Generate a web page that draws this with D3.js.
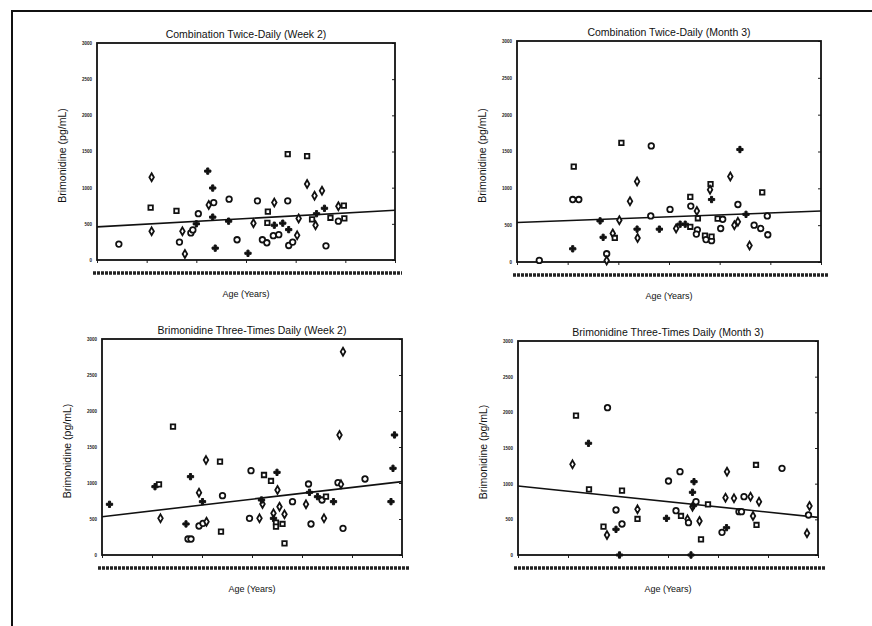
<!DOCTYPE html>
<html>
<head>
	<meta charset="utf-8">
	<title>Brimonidine by age</title>
	<style>
		body {
			margin: 0;
			background: white;
			font-family: 'Liberation Sans', Arial, sans-serif;
		}

		svg {
			display: block;
		}
	</style>
</head>
<body>
	<svg width='872' height='626'></svg>
</body>
<script src='https://d3js.org/d3.v7.min.js'></script>
<script>

	// values: [age, brimonidine pg/mL, marker]
	// c = circle, s = square, d = diamond, p = plus
	let comboWeek2 = [
		[24.4, 220, 'c'], [31.0, 1145, 'd'], [30.8, 724, 's'], [31.0, 397, 'd'],
		[36.0, 678, 's'], [36.6, 248, 'c'], [37.2, 397, 'd'], [37.7, 84, 'd'],
		[38.9, 374, 'c'], [39.3, 416, 'c'], [40.4, 640, 'c'], [40.0, 500, 'p'],
		[42.3, 1229, 'p'], [42.5, 762, 'd'], [43.5, 794, 'c'], [43.3, 995, 'p'],
		[43.3, 593, 'p'], [43.8, 164, 'p'], [46.6, 841, 'c'], [46.5, 537, 'p'],
		[48.2, 280, 'c'], [50.4, 93, 'p'], [52.3, 818, 'c'], [51.5, 509, 'd'],
		[53.3, 280, 'c'], [54.2, 238, 'c'], [54.4, 668, 's'], [54.3, 514, 's'],
		[55.7, 794, 'd'], [55.7, 481, 'p'], [55.5, 336, 'c'], [56.6, 350, 'c'],
		[57.4, 509, 'p'], [58.4, 818, 'c'], [58.4, 1463, 's'], [58.6, 420, 'p'],
		[58.6, 201, 'c'], [59.4, 248, 'c'], [60.3, 341, 'd'], [60.6, 575, 'd'],
		[62.3, 1435, 's'], [62.3, 1051, 'd'], [63.3, 561, 's'], [63.8, 888, 'd'],
		[64.0, 481, 'd'], [64.2, 640, 'p'], [65.3, 958, 'd'], [65.8, 715, 'p'],
		[66.1, 196, 'c'], [67.0, 584, 's'], [68.6, 537, 'c'], [68.6, 743, 'd'],
		[69.7, 752, 's'], [69.8, 575, 's']
	]

	let comboMonth3 = [
		[24.4, 22, 'c'], [31.2, 1295, 's'], [31.0, 848, 'c'], [32.2, 848, 'c'],
		[31.0, 179, 'p'], [36.4, 558, 'p'], [37.0, 335, 'p'], [37.7, 112, 'c'],
		[37.7, 22, 'd'], [38.9, 388, 'd'], [39.3, 326, 's'], [40.2, 567, 'd'],
		[40.6, 1616, 's'], [42.3, 826, 'd'], [43.7, 1094, 'd'], [43.7, 446, 'p'],
		[43.8, 326, 'd'], [46.5, 1576, 'c'], [46.4, 625, 'c'], [48.1, 446, 'p'],
		[50.2, 714, 'c'], [51.4, 455, 'd'], [52.2, 513, 'p'], [53.2, 513, 'p'],
		[54.2, 478, 's'], [54.2, 884, 's'], [54.3, 759, 'c'], [55.5, 692, 'd'],
		[55.7, 594, 's'], [55.6, 437, 'c'], [55.4, 379, 'c'], [57.1, 357, 's'],
		[57.3, 304, 'c'], [58.2, 1058, 's'], [58.1, 982, 'd'], [58.4, 848, 'p'],
		[58.4, 290, 'c'], [58.4, 344, 's'], [59.6, 589, 's'], [60.6, 580, 'c'],
		[60.2, 455, 'c'], [62.1, 1161, 'd'], [62.9, 500, 'd'], [63.6, 545, 'd'],
		[63.6, 781, 'c'], [64.0, 1527, 'p'], [65.2, 647, 'p'], [65.9, 223, 'd'],
		[66.8, 500, 'c'], [68.1, 455, 'c'], [68.4, 946, 's'], [69.5, 370, 'c'],
		[69.4, 625, 'c']
	]

	let tidWeek2 = [
		[21.5, 704, 'p'], [30.6, 949, 'p'], [31.4, 981, 's'], [31.7, 509, 'd'],
		[34.2, 1782, 's'], [36.8, 431, 'p'], [37.2, 222, 'c'], [37.8, 222, 'c'],
		[37.7, 1088, 'p'], [39.4, 866, 'd'], [40.1, 741, 'p'], [39.4, 403, 'c'],
		[40.2, 440, 'c'], [40.9, 463, 'd'], [40.8, 1319, 'd'], [43.6, 1296, 's'],
		[43.8, 324, 's'], [44.1, 824, 'c'], [49.5, 509, 'c'], [49.8, 1171, 'c'],
		[51.5, 509, 'd'], [52.1, 708, 'd'], [51.9, 764, 'p'], [52.4, 1111, 's'],
		[53.8, 1028, 's'], [54.3, 579, 'd'], [54.3, 509, 'p'], [54.8, 449, 's'],
		[54.8, 394, 's'], [55.0, 1148, 'p'], [55.1, 903, 'd'], [55.5, 671, 'd'],
		[56.1, 431, 's'], [56.5, 565, 'd'], [56.5, 162, 's'], [58.1, 741, 'c'],
		[60.8, 704, 'd'], [61.3, 986, 'c'], [61.5, 870, 'p'], [61.8, 431, 'c'],
		[63.1, 810, 'p'], [64.0, 764, 'c'], [64.8, 810, 's'], [64.4, 509, 'd'],
		[66.3, 741, 'p'], [67.2, 1005, 'c'], [67.5, 1667, 'd'], [67.8, 981, 'd'],
		[68.2, 2824, 'd'], [68.2, 370, 'c'], [72.6, 1056, 'c'], [77.8, 741, 'p'],
		[78.2, 1204, 'p'], [78.5, 1667, 'p']
	]

	let tidMonth3 = [
		[30.9, 1271, 'd'], [31.6, 1953, 's'], [34.1, 1566, 'p'], [34.2, 921, 's'],
		[37.1, 397, 's'], [37.8, 280, 'd'], [37.9, 2065, 'c'], [39.6, 631, 'c'],
		[39.6, 360, 'p'], [40.8, 435, 'c'], [40.3, 0, 'p'], [40.8, 902, 's'],
		[43.9, 640, 'd'], [43.9, 505, 's'], [49.7, 514, 'p'], [50.1, 1037, 'c'],
		[51.6, 621, 'c'], [52.4, 1168, 'c'], [52.6, 547, 's'], [53.9, 500, 'd'],
		[54.1, 453, 'c'], [54.9, 879, 'p'], [54.9, 678, 'd'], [55.2, 1028, 'p'],
		[55.1, 692, 'p'], [55.6, 748, 'c'], [54.6, 0, 'p'], [56.3, 477, 'd'],
		[56.6, 220, 's'], [58.0, 710, 's'], [60.8, 318, 'c'], [61.7, 383, 'p'],
		[61.5, 804, 'd'], [61.8, 1168, 'd'], [63.2, 794, 'd'], [64.2, 607, 'c'],
		[64.7, 607, 'c'], [65.2, 818, 'c'], [66.5, 818, 'd'], [67.0, 547, 'd'],
		[67.6, 1262, 's'], [67.7, 421, 's'], [68.2, 748, 'd'], [72.8, 1215, 'c'],
		[77.8, 304, 'd'], [78.1, 561, 'c'], [78.3, 687, 'd']
	]

	let panelTitles = [
		'Combination Twice-Daily (Week 2)',
		'Combination Twice-Daily (Month 3)',
		'Brimonidine Three-Times Daily (Week 2)',
		'Brimonidine Three-Times Daily (Month 3)'
	]

	// fitted line, value at age 20 and at age 80
	let fitLines = [[458, 687], [536, 692], [532, 1019], [967, 528]]

	let yTicks = [0, 500, 1000, 1500, 2000, 2500, 3000]
	let xTicks = [20, 30, 40, 50, 60, 70, 80]

	let panelData = [comboWeek2, comboMonth3, tidWeek2, tidMonth3]

	// plot boxes
	let boxes = [
		{ left: 97, right: 395, top: 43, bottom: 260 },
		{ left: 517, right: 821, top: 41, bottom: 262 },
		{ left: 102, right: 402, top: 339, bottom: 555 },
		{ left: 518, right: 818, top: 341, bottom: 555 }
	]

	let svg = d3.select('svg')

	// outer frame of the figure (only top and left are on the page)
	svg.append('path')
		.attr('d', 'M12,626 L12,11 L872,11')
		.style('fill', 'none')
		.style('stroke', '#111')
		.style('stroke-width', 2)

	let shapeFor = {
		c: d3.symbolCircle,
		s: d3.symbolSquare,
		d: d3.symbolDiamond,
		p: d3.symbolCross
	}

	let sizeFor = { c: 24, s: 20, d: 18, p: 22 }

	panelData.forEach((points, i) => {
		let b = boxes[i]

		let x = d3.scaleLinear()
			.domain([20, 80])
			.range([b.left, b.right])

		let y = d3.scaleLinear()
			.domain([0, 3000])
			.range([b.bottom, b.top])

		let g = svg.append('g')

		// title
		g.append('text')
			.attr('x', (b.left + b.right) / 2)
			.attr('y', b.top - 5)
			.attr('text-anchor', 'middle')
			.style('font-size', '10.5px')
			.style('fill', '#111')
			.text(panelTitles[i])

		// y axis label
		g.append('text')
			.attr('transform', `translate(${b.left - 31}, ${(b.top + b.bottom) / 2 + 4}) rotate(-90)`)
			.attr('text-anchor', 'middle')
			.style('font-size', '10.5px')
			.style('fill', '#111')
			.text('Brimonidine (pg/mL)')

		// x axis label
		g.append('text')
			.attr('x', (b.left + b.right) / 2)
			.attr('y', b.bottom + 37)
			.attr('text-anchor', 'middle')
			.style('font-size', '9px')
			.style('fill', '#111')
			.text('Age (Years)')

		// y ticks, tiny smudged labels like the scan
		let yAxis = d3.axisLeft(y)
			.tickValues(yTicks)
			.tickSize(0)
			.tickPadding(5)
			.tickFormat(d3.format('d'))

		g.append('g')
			.attr('transform', `translate(${b.left},0)`)
			.call(yAxis)
			.call(ax => ax.select('.domain').remove())
			.selectAll('text')
			.style('font-size', '4.5px')
			.style('font-weight', 'bold')
			.style('fill', '#222')

		// inward ticks on the right side
		g.append('g')
			.attr('transform', `translate(${b.right},0)`)
			.call(d3.axisLeft(y).tickValues(yTicks).tickSize(3).tickFormat(''))
			.call(ax => ax.select('.domain').remove())
			.selectAll('line')
			.style('stroke', '#222')

		// bottom ticks
		g.append('g')
			.attr('transform', `translate(0,${b.bottom})`)
			.call(d3.axisBottom(x).tickValues(xTicks).tickSize(3).tickFormat(''))
			.call(ax => ax.select('.domain').remove())
			.selectAll('line')
			.style('stroke', '#222')

		// the unreadable row of x tick labels shows up as a dark band
		g.append('line')
			.attr('x1', b.left - 4)
			.attr('x2', b.right + 7)
			.attr('y1', b.bottom + 13)
			.attr('y2', b.bottom + 13)
			.style('stroke', '#222')
			.style('stroke-width', 3.5)
			.style('stroke-dasharray', '3,1')

		// fitted line
		g.append('line')
			.attr('x1', x(20))
			.attr('x2', x(80))
			.attr('y1', y(fitLines[i][0]))
			.attr('y2', y(fitLines[i][1]))
			.style('stroke', '#111')
			.style('stroke-width', 1.6)

		// frame
		g.append('rect')
			.attr('x', b.left)
			.attr('y', b.top)
			.attr('width', b.right - b.left)
			.attr('height', b.bottom - b.top)
			.style('fill', 'none')
			.style('stroke', '#111')
			.style('stroke-width', 1.8)

		// points
		g.append('g')
			.selectAll('path')
			.data(points)
			.join('path')
			.attr('transform', d => `translate(${x(d[0])},${y(d[1])})`)
			.attr('d', d => d3.symbol().type(shapeFor[d[2]]).size(sizeFor[d[2]])())
			.style('fill', d => d[2] == 'p' ? '#111' : 'white')
			.style('stroke', '#111')
			.style('stroke-width', d => d[2] == 'p' ? 1 : 1.8)
	})

</script>
</html>
